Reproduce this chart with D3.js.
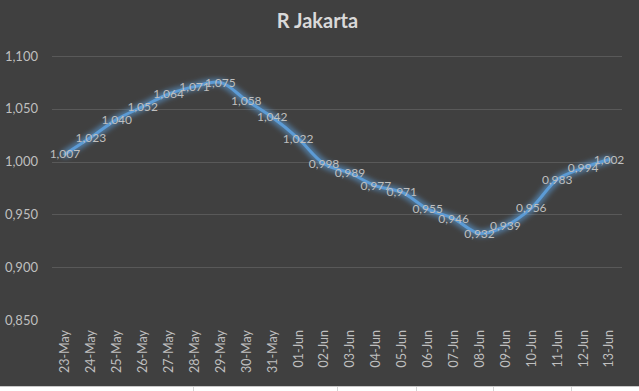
<!DOCTYPE html>
<html>
<head>
<meta charset="utf-8">
<script src="https://cdn.jsdelivr.net/npm/d3@7"></script>
<style>
  html, body { margin: 0; padding: 0; background: #404040; }
  svg { display: block; }
  text { font-family: Lato, "Open Sans", sans-serif; }
</style>
</head>
<body>
<div id="chart"></div>
<script>
// data
const dates = ["23-May", "24-May", "25-May", "26-May", "27-May", "28-May", "29-May", "30-May", "31-May",
  "01-Jun", "02-Jun", "03-Jun", "04-Jun", "05-Jun", "06-Jun", "07-Jun", "08-Jun", "09-Jun", "10-Jun",
  "11-Jun", "12-Jun", "13-Jun"];
const rValues = [1.007, 1.023, 1.040, 1.052, 1.064, 1.071, 1.075, 1.058, 1.042, 1.022, 0.998,
  0.989, 0.977, 0.971, 0.955, 0.946, 0.932, 0.939, 0.956, 0.983, 0.994, 1.002];
const yTicks = [0.85, 0.90, 0.95, 1.00, 1.05, 1.10];
const chartTitle = "R Jakarta";

const width = 639, height = 391;
const margin = { top: 56, right: 17, bottom: 71, left: 52 };

const fmt = v => d3.format(".3f")(v).replace(".", ",");

const svg = d3.select("#chart").append("svg")
  .attr("width", width)
  .attr("height", height);

svg.append("rect")
  .attr("width", width)
  .attr("height", height)
  .attr("fill", "#404040");

// glow around the line
const defs = svg.append("defs");
const glow = defs.append("filter")
  .attr("id", "glow")
  .attr("x", "-10%").attr("y", "-30%")
  .attr("width", "120%").attr("height", "160%");
glow.append("feMorphology")
  .attr("in", "SourceGraphic")
  .attr("operator", "dilate")
  .attr("radius", 1.5)
  .attr("result", "thick");
glow.append("feGaussianBlur")
  .attr("in", "thick")
  .attr("stdDeviation", 2.5)
  .attr("result", "blur");
glow.append("feComponentTransfer")
  .attr("in", "blur")
  .attr("result", "soft")
  .append("feFuncA")
  .attr("type", "linear")
  .attr("slope", 0.6);
const merge = glow.append("feMerge");
merge.append("feMergeNode").attr("in", "soft");
merge.append("feMergeNode").attr("in", "SourceGraphic");

const x = d3.scaleBand()
  .domain(dates)
  .range([margin.left, width - margin.right]);

const y = d3.scaleLinear()
  .domain([0.85, 1.10])
  .range([height - margin.bottom, margin.top]);

// title
svg.append("text")
  .attr("x", width / 2 - 2)
  .attr("y", 28)
  .attr("text-anchor", "middle")
  .attr("fill", "#d9d9d9")
  .attr("font-size", 20)
  .attr("font-weight", "bold")
  .text(chartTitle);

// gridlines (no line at the bottom value)
svg.append("g")
  .selectAll("line")
  .data(yTicks.filter(t => t > 0.85))
  .join("line")
  .attr("x1", margin.left)
  .attr("x2", width - margin.right)
  .attr("y1", d => Math.round(y(d)) + 0.5)
  .attr("y2", d => Math.round(y(d)) + 0.5)
  .attr("stroke", "#595959")
  .attr("stroke-width", 1);

// y axis labels
const yAxis = svg.append("g")
  .attr("transform", `translate(${margin.left - 14},0)`)
  .call(d3.axisLeft(y).tickValues(yTicks).tickFormat(fmt).tickSize(0).tickPadding(0));
yAxis.select(".domain").remove();
yAxis.selectAll("text")
  .attr("fill", "#bfbfbf")
  .attr("font-size", 13);

// x axis labels, rotated
const xAxis = svg.append("g")
  .attr("transform", `translate(0,${height - margin.bottom})`)
  .call(d3.axisBottom(x).tickSize(0).tickPadding(0));
xAxis.select(".domain").remove();
xAxis.selectAll("text")
  .attr("fill", "#bfbfbf")
  .attr("font-size", 12.5)
  .attr("text-anchor", "end")
  .attr("transform", "translate(0,10) rotate(-90)")
  .attr("dx", 0)
  .attr("dy", "0.35em")
  .attr("y", 0);

// line
const line = d3.line()
  .x((d, i) => x(dates[i]) + x.bandwidth() / 2)
  .y(d => y(d))
  .curve(d3.curveCatmullRom.alpha(0.5));

svg.append("path")
  .datum(rValues)
  .attr("d", line)
  .attr("fill", "none")
  .attr("stroke", "#5b9bd5")
  .attr("stroke-width", 3)
  .attr("stroke-linejoin", "round")
  .attr("stroke-linecap", "round")
  .attr("filter", "url(#glow)");

// data labels centred on the points
svg.append("g")
  .selectAll("text")
  .data(rValues)
  .join("text")
  .attr("x", (d, i) => x(dates[i]) + x.bandwidth() / 2)
  .attr("y", d => y(d))
  .attr("dy", "0.35em")
  .attr("text-anchor", "middle")
  .attr("fill", "#bfbfbf")
  .attr("font-size", 12)
  .text(d => fmt(d));

// bit of spreadsheet showing under the chart
svg.append("rect")
  .attr("x", 0)
  .attr("y", 387)
  .attr("width", width)
  .attr("height", 4)
  .attr("fill", "#ffffff");
svg.append("line")
  .attr("x1", 0).attr("x2", width)
  .attr("y1", 386.5).attr("y2", 386.5)
  .attr("stroke", "#c8c8c8");
svg.append("g")
  .selectAll("line")
  .data([193, 337, 416, 493, 571])
  .join("line")
  .attr("x1", d => d + 0.5).attr("x2", d => d + 0.5)
  .attr("y1", 387).attr("y2", 391)
  .attr("stroke", "#d4d4d4");
</script>
</body>
</html>
